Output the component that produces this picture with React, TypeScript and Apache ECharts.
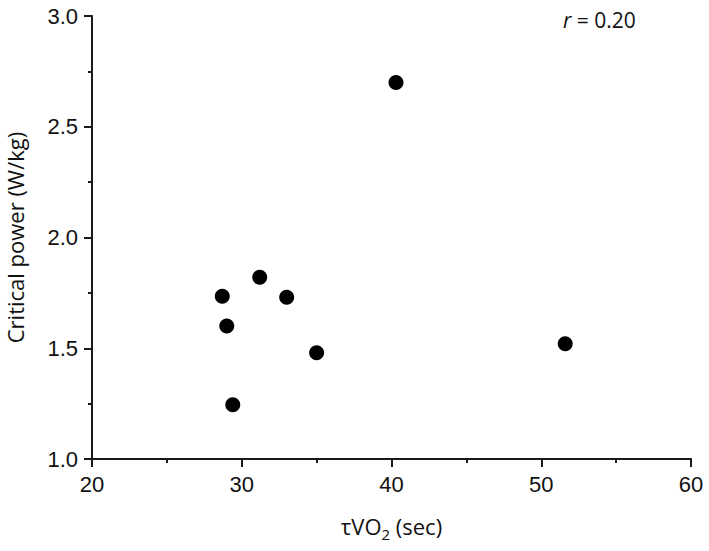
import React, { useEffect, useRef } from "react";
import * as echarts from "echarts";

const tauVO2: number[] = [28.7, 29.0, 29.4, 31.2, 33.0, 35.0, 40.3, 51.6];
const criticalPower: number[] = [1.735, 1.6, 1.245, 1.82, 1.73, 1.48, 2.7, 1.52];
const xTicks = { min: 20, max: 60, interval: 10 };
const yTicks = { min: 1.0, max: 3.0, interval: 0.5 };
const annotation = "0.20";

export default function App() {
  const ref = useRef<HTMLDivElement>(null);
  useEffect(() => {
    document.body.style.margin = "0";
    if (!ref.current) return;
    const chart = echarts.init(ref.current, null, { renderer: "svg" });
    const data = tauVO2.map((x, i) => [x, criticalPower[i]]);
    const axisCommon = {
      axisLine: { show: true, lineStyle: { color: "#1a1a1a", width: 2 } },
      axisTick: { show: true, inside: false, length: 8, lineStyle: { color: "#1a1a1a", width: 2 } },
      minorTick: { show: true, splitNumber: 2, length: 4, lineStyle: { color: "#1a1a1a", width: 2 } },
      splitLine: { show: false },
      minorSplitLine: { show: false },
    };
    chart.setOption({
      animation: false,
      backgroundColor: "#fff",
      grid: { left: 92, top: 16, right: 18, bottom: 92, containLabel: false, outerBoundsMode: "none" },
      xAxis: {
        type: "value",
        ...axisCommon,
        min: xTicks.min,
        max: xTicks.max,
        interval: xTicks.interval,
        axisLabel: { fontFamily: "Liberation Sans, Arial", fontSize: 22, color: "#111", margin: 14 },
        name: "{a|τVO}{s|2}{a| (sec)}",
        nameLocation: "middle",
        nameGap: 51,
        nameMoveOverlap: false,
        nameTextStyle: {
          rich: {
            a: { fontFamily: "Open Sans, sans-serif", fontSize: 22, color: "#111" },
            s: { fontFamily: "Open Sans, sans-serif", fontSize: 15, color: "#111", padding: [16, 0, 0, 0] },
          },
        },
      },
      yAxis: {
        type: "value",
        ...axisCommon,
        min: yTicks.min,
        max: yTicks.max,
        interval: yTicks.interval,
        axisLabel: {
          fontFamily: "Liberation Sans, Arial",
          fontSize: 22,
          color: "#111",
          margin: 14,
          formatter: (v: number) => v.toFixed(1),
        },
        name: "Critical power (W/kg)",
        nameLocation: "middle",
        nameGap: 66,
        nameMoveOverlap: false,
        nameTextStyle: { fontFamily: "Open Sans, sans-serif", fontSize: 22, color: "#111" },
      },
      graphic: [
        {
          type: "text",
          left: 563,
          top: 9,
          style: {
            text: "{i|r}{n| = " + annotation + "}",
            rich: {
              i: { fontFamily: "Open Sans, sans-serif", fontStyle: "italic", fontSize: 21, fill: "#111" },
              n: { fontFamily: "Open Sans, sans-serif", fontSize: 21, fill: "#111" },
            },
          },
        },
      ],
      series: [
        {
          type: "scatter",
          data,
          symbol: "circle",
          symbolSize: 15,
          itemStyle: { color: "#000", opacity: 1 },
        },
      ],
    });
    return () => chart.dispose();
  }, []);
  return <div ref={ref} style={{ width: 709, height: 551 }} />;
}
